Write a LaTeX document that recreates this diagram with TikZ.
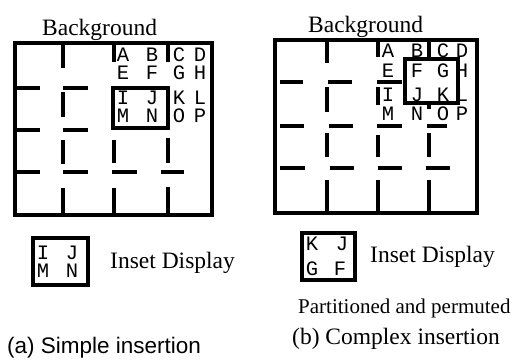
\documentclass[tikz,border=0pt]{standalone}
\usepackage{fontspec}
\setmainfont{Liberation Serif}
\newfontfamily\capsans{Liberation Sans}
\newfontfamily\cellmono{Liberation Mono}
\begin{document}
\begin{tikzpicture}[x=1pt,y=-1pt,
  wall/.style={line width=3.2pt},
  cell/.style={font=\cellmono\fontsize{20.5}{20.5}\selectfont, inner sep=0pt},
  lbl/.style={font=\fontsize{23.5}{24}\selectfont, inner sep=0pt, anchor=base west},
]
\useasboundingbox (0,0) rectangle (515,362);
% ---------- (a) simple insertion ----------
\draw[wall] (15,43) rectangle (212,215);
\foreach \x/\a/\b in {63/43/68, 63/92/117, 63/140/164, 63/188/215,
                      114/43/62, 114/140/163, 114/188/215,
                      168/43/62, 168/138/163, 168/187/215}
  \draw[wall] (\x,\a) -- (\x,\b);
\foreach \y/\a/\b in {88/15/40, 88/63/88, 130/15/40, 130/63/88,
                      172/15/40, 172/63/88, 172/112/137, 172/161/184}
  \draw[wall] (\a,\y) -- (\b,\y);
\draw[wall] (113,88) rectangle (168,128);
\foreach \l/\x/\y in {A/123/55, B/152/55, C/179/55, D/200/55,
                      E/123/73, F/152/73, G/179/73, H/200/73,
                      I/123/98, J/152/98, K/179/98, L/200/98,
                      M/123/116, N/152/116, O/179/116, P/200/116}
  \node[cell] (a\l) at (\x,\y) {\l};
% legend (a)
\draw[wall] (33,238) rectangle (88,285);
\foreach \l/\x/\y in {I/43/253, J/72/253, M/43/271, N/72/271}
  \node[cell] (la\l) at (\x,\y) {\l};
\node[lbl] (bgA) at (42,35) {Background};
\node[lbl] (insA) at (110,268) {Inset Display};
\node[lbl, font=\capsans\fontsize{22.5}{23}\selectfont] (capA) at (7,353) {(a) Simple insertion};
% ---------- (b) complex insertion ----------
\draw[wall] (275,40) rectangle (477,213);
\foreach \x/\a/\b in {327/40/63, 327/87/112, 327/133/157, 327/180/213,
                      378/40/57, 378/87/105, 378/135/157, 378/180/213,
                      429/40/59, 429/103/109, 429/133/157, 429/180/213}
  \draw[wall] (\x,\a) -- (\x,\b);
\foreach \y/\a/\b in {82/280/303, 82/328/352, 82/377/402,
                      126/280/304, 126/329/353, 126/377/402, 126/427/447,
                      168/280/305, 168/330/354, 168/378/402, 168/426/450}
  \draw[wall] (\a,\y) -- (\b,\y);
\draw[wall] (405,59) rectangle (458,103);
\foreach \l/\x/\y in {A/388/51, B/417/51, C/443/51, D/462/51,
                      E/388/71, F/417/71, G/443/71, H/462/71,
                      I/388/95, J/417/95, K/443/95, L/462/95,
                      M/388/114, N/417/114, O/443/114, P/462/114}
  \node[cell] (b\l) at (\x,\y) {\l};
% legend (b)
\draw[wall] (302,233) rectangle (355,280);
\foreach \l/\x/\y in {K/312/244, J/342/244, G/312/269, F/340/269}
  \node[cell] (lb\l) at (\x,\y) {\l};
\node[lbl] (bgB) at (308,32) {Background};
\node[lbl] (insB) at (370,262) {Inset Display};
\node[lbl, font=\fontsize{21}{21}\selectfont] (perm) at (298,313) {Partitioned and permuted};
\node[lbl] (capB) at (292,344) {(b) Complex insertion};
\end{tikzpicture}
\end{document}
